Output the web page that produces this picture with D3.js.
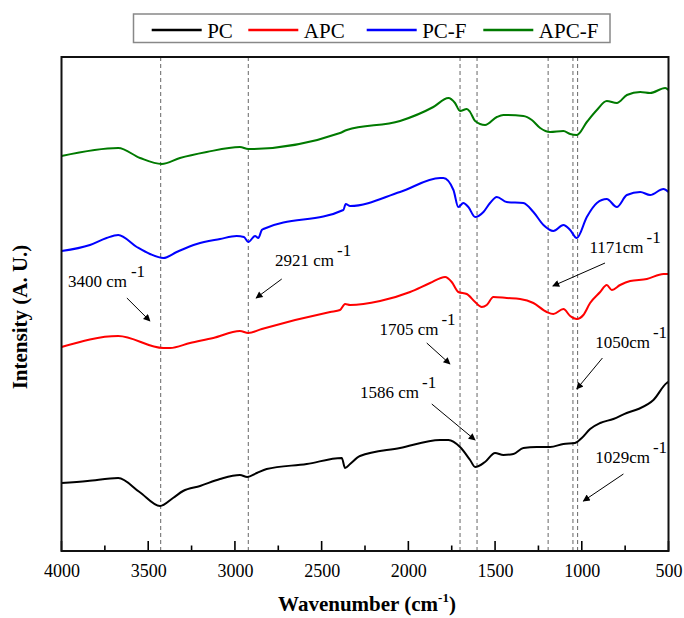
<!DOCTYPE html>
<html>
<head>
<meta charset="utf-8">
<script src="https://cdn.jsdelivr.net/npm/d3@7"></script>
<style>
  html, body { margin: 0; padding: 0; background: #fff; }
  svg text { font-family: "Liberation Serif", "Times New Roman", serif; }
</style>
</head>
<body>
<svg id="chart" width="684" height="618"></svg>
<script>
// FTIR spectra, [wavenumber (cm-1), intensity (a.u., offset for stacking)]
const PC = [
  [4000, 68], [3850, 70], [3673, 73], [3550, 59], [3432, 45], [3357, 53], [3299, 60],
  [3201, 65], [3086, 72], [2971, 76], [2929, 74], [2874, 78], [2817, 82], [2586, 87],
  [2384, 93], [2365, 83], [2336, 87], [2279, 95], [2048, 103], [1817, 111], [1769, 111],
  [1702, 104], [1644, 91], [1615, 84], [1558, 89], [1500, 98], [1452, 96], [1394, 97],
  [1337, 103], [1260, 104], [1183, 104], [1106, 107], [1039, 108], [1000, 113], [952, 122],
  [894, 128], [818, 132], [741, 138], [674, 142], [587, 151], [510, 168], [500, 169]
];
const APC = [
  [4000, 204], [3673, 215], [3413, 203], [3374, 203], [3259, 208], [3125, 213], [2971, 220],
  [2923, 218], [2845, 222], [2451, 239], [2394, 241], [2365, 247], [2336, 246], [2163, 250],
  [1990, 259], [1875, 268], [1788, 274], [1750, 269], [1712, 259], [1663, 257], [1615, 249],
  [1577, 244], [1548, 246], [1510, 254], [1433, 253], [1356, 252], [1279, 248], [1202, 239],
  [1164, 237], [1106, 242], [1067, 235], [1029, 232], [991, 236], [952, 248], [894, 259],
  [856, 266], [827, 261], [779, 266], [721, 270], [625, 272], [529, 277], [500, 277]
];
const PCF = [
  [4000, 300], [3836, 306], [3740, 313], [3673, 316], [3566, 304], [3490, 297], [3413, 293],
  [3336, 299], [3220, 307], [3086, 312], [2990, 315], [2948, 314], [2923, 309], [2884, 315],
  [2865, 313], [2845, 321], [2836, 322], [2375, 341], [2361, 347], [2336, 345], [2048, 359],
  [1817, 373], [1798, 373], [1740, 361], [1712, 344], [1683, 348], [1654, 344], [1615, 334],
  [1567, 339], [1529, 348], [1490, 354], [1433, 349], [1337, 348], [1279, 339], [1221, 326],
  [1164, 320], [1106, 326], [1067, 321], [1029, 313], [971, 334], [913, 348], [856, 352],
  [798, 344], [740, 356], [663, 359], [606, 356], [529, 362], [500, 359]
];
const APCF = [
  [4000, 395], [3673, 403], [3547, 393], [3422, 387], [3317, 393], [3163, 399], [2971, 404],
  [2923, 402], [2394, 418], [2355, 421], [2048, 430], [1856, 444], [1769, 453], [1731, 448],
  [1702, 440], [1663, 442], [1644, 439], [1615, 430], [1558, 426], [1490, 434], [1452, 436],
  [1337, 435], [1288, 431], [1240, 423], [1183, 419], [1106, 420], [1067, 417], [1029, 416],
  [971, 429], [913, 441], [856, 450], [798, 448], [740, 456], [663, 459], [606, 458],
  [519, 463], [500, 461]
];

const seriesNames = ["PC", "APC", "PC-F", "APC-F"];
const seriesData = [PC, APC, PCF, APCF];
const seriesColors = ["#000000", "#ff0000", "#0000ff", "#007a00"];

// band positions marked with dashed guides
const bandLines = [3428, 2923, 1702, 1604, 1194, 1051, 1024];

// band labels: text, label anchor, arrow tail, arrow head (wavenumber, intensity)
const bandLabels = [
  { text: "3400 cm", gap: 4, at: [3963, 264], from: [3623, 253], to: [3490, 230] },
  { text: "2921 cm", gap: 3, at: [2769, 285], from: [2730, 272], to: [2878, 253] },
  { text: "1171cm",  gap: 3, at: [956, 298],  from: [866, 288],  to: [1167, 265] },
  { text: "1705 cm", gap: 3, at: [2167, 216], from: [1894, 208], to: [1760, 187] },
  { text: "1050cm",  gap: 3, at: [923, 203],  from: [881, 193],  to: [1029, 162] },
  { text: "1586 cm", gap: 3, at: [2279, 153], from: [1865, 147], to: [1615, 111] },
  { text: "1029cm",  gap: 3, at: [923, 88],   from: [760, 77],   to: [991, 50] }
];

const xMajorTicks = [4000, 3500, 3000, 2500, 2000, 1500, 1000, 500];
const xMinorTicks = [3750, 3250, 2750, 2250, 1750, 1250, 750];

const svg = d3.select("#chart");
const plotLeft = 61.5, plotRight = 668.5, plotTop = 57, plotBottom = 551;

const x = d3.scaleLinear().domain([4000, 500]).range([plotLeft, plotRight]);
const y = d3.scaleLinear().domain([0, 494]).range([plotBottom, plotTop]);

// arrowhead marker
svg.append("defs").append("marker")
  .attr("id", "arrowhead")
  .attr("viewBox", "0 0 10 10")
  .attr("refX", 9).attr("refY", 5)
  .attr("markerWidth", 10).attr("markerHeight", 7)
  .attr("markerUnits", "userSpaceOnUse")
  .attr("orient", "auto")
  .append("path")
  .attr("d", "M0,0 L10,5 L0,10 Z")
  .attr("fill", "#000");

// dashed guides
svg.append("g").selectAll("line")
  .data(bandLines)
  .join("line")
  .attr("x1", d => x(d)).attr("x2", d => x(d))
  .attr("y1", plotTop).attr("y2", plotBottom)
  .attr("stroke", "#666")
  .attr("stroke-width", 1)
  .attr("stroke-dasharray", "4,3");

// spectra
const line = d3.line()
  .x(d => x(d[0]))
  .y(d => y(d[1]))
  .curve(d3.curveMonotoneX);

svg.append("g").selectAll("path")
  .data(seriesData)
  .join("path")
  .attr("d", d => line(d))
  .attr("fill", "none")
  .attr("stroke", (d, i) => seriesColors[i])
  .attr("stroke-width", 2)
  .attr("stroke-linejoin", "round");

// band labels with arrows
const ann = svg.append("g");
bandLabels.forEach(b => {
  const t = ann.append("text")
    .attr("x", x(b.at[0]))
    .attr("y", y(b.at[1]))
    .attr("font-size", 17)
    .attr("fill", "#000");
  t.append("tspan").text(b.text);
  t.append("tspan").attr("dx", b.gap).attr("dy", -10).text("-1");
  ann.append("line")
    .attr("x1", x(b.from[0])).attr("y1", y(b.from[1]))
    .attr("x2", x(b.to[0])).attr("y2", y(b.to[1]))
    .attr("stroke", "#000")
    .attr("stroke-width", 1)
    .attr("marker-end", "url(#arrowhead)");
});

// x axis with inward ticks
const xAxis = svg.append("g").attr("transform", `translate(0,${plotBottom})`);
xAxis.call(d3.axisBottom(x).tickValues(xMajorTicks).tickSize(0).tickPadding(13).tickFormat(d3.format("d")))
  .call(g => g.select(".domain").remove())
  .selectAll("text")
  .attr("font-size", 18)
  .attr("font-family", "Liberation Serif, serif")
  .attr("fill", "#000");
xAxis.selectAll("line.major")
  .data(xMajorTicks)
  .join("line")
  .attr("class", "major")
  .attr("x1", d => x(d)).attr("x2", d => x(d))
  .attr("y1", 0).attr("y2", -10)
  .attr("stroke", "#000").attr("stroke-width", 1.6);
xAxis.selectAll("line.minor")
  .data(xMinorTicks)
  .join("line")
  .attr("class", "minor")
  .attr("x1", d => x(d)).attr("x2", d => x(d))
  .attr("y1", 0).attr("y2", -5.5)
  .attr("stroke", "#000").attr("stroke-width", 1.6);

// frame
svg.append("rect")
  .attr("x", plotLeft).attr("y", plotTop)
  .attr("width", plotRight - plotLeft).attr("height", plotBottom - plotTop)
  .attr("fill", "none")
  .attr("stroke", "#111")
  .attr("stroke-width", 2);

// axis titles
const xt = svg.append("text")
  .attr("x", (plotLeft + plotRight) / 2 + 2)
  .attr("y", 611)
  .attr("text-anchor", "middle")
  .attr("font-size", 21)
  .attr("font-weight", "bold");
xt.append("tspan").text("Wavenumber (cm");
xt.append("tspan").attr("dy", -9).attr("font-size", 13).text("-1");
xt.append("tspan").attr("dy", 9).text(")");

svg.append("text")
  .attr("transform", `translate(27,317) rotate(-90)`)
  .attr("text-anchor", "middle")
  .attr("font-size", 21)
  .attr("font-weight", "bold")
  .text("Intensity (A. U.)");

// legend
const legend = svg.append("g");
legend.append("rect")
  .attr("x", 133.5).attr("y", 14)
  .attr("width", 476.5).attr("height", 28.5)
  .attr("fill", "#fff")
  .attr("stroke", "#888")
  .attr("stroke-width", 1.5);
const legendX = [151.7, 248.3, 366.7, 483.3];
seriesNames.forEach((name, i) => {
  legend.append("line")
    .attr("x1", legendX[i]).attr("x2", legendX[i] + 50)
    .attr("y1", 30).attr("y2", 30)
    .attr("stroke", seriesColors[i])
    .attr("stroke-width", 2.5);
  legend.append("text")
    .attr("x", legendX[i] + 55.5)
    .attr("y", 37.5)
    .attr("font-size", 21)
    .attr("fill", "#000")
    .text(name);
});
</script>
</body>
</html>
